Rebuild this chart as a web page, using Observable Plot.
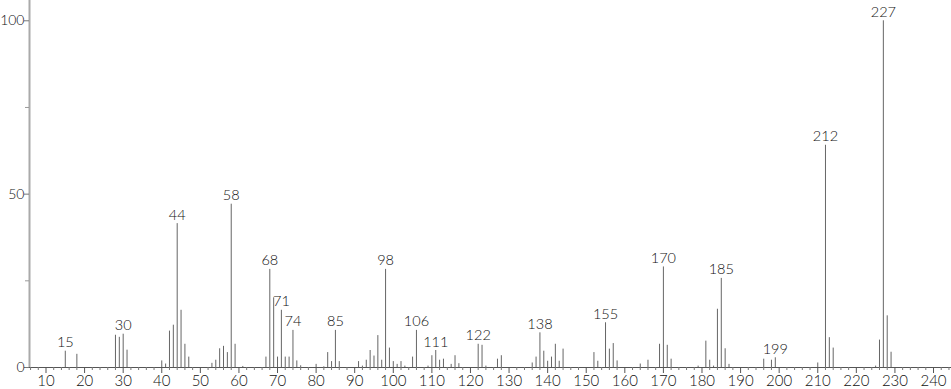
<!DOCTYPE html>
<html>
<head>
<meta charset="utf-8">
<script src="https://cdn.jsdelivr.net/npm/d3@7"></script>
<script src="https://cdn.jsdelivr.net/npm/@observablehq/plot@0.6"></script>
<style>
  html, body { margin: 0; padding: 0; background: #fff; }
  #chart svg { display: block; }
</style>
</head>
<body>
<div id="chart"></div>
<script>
// m/z values and relative intensities
const mz = [15, 18, 28, 29, 30, 31, 40, 41, 42, 43, 44, 45, 46, 47, 53, 54, 55, 56, 57, 58, 59, 61,
  67, 68, 69, 70, 71, 72, 73, 74, 75, 76, 80, 82, 83, 84, 85, 86, 91, 92, 93, 94, 95, 96, 97, 98, 99,
  100, 101, 102, 103, 105, 106, 109, 110, 111, 112, 113, 115, 116, 117, 122, 123, 124, 127, 128,
  136, 137, 138, 139, 140, 141, 142, 143, 144, 152, 153, 155, 156, 157, 158, 164, 166, 169, 170,
  171, 172, 179, 181, 182, 183, 184, 185, 186, 187, 196, 198, 199, 210, 212, 213, 214, 225, 226,
  227, 228, 229];
const intensity = [4.7, 3.8, 9.3, 8.7, 9.6, 5.0, 1.9, 1.0, 10.5, 12.2, 41.5, 16.5, 6.7, 3.0, 1.2, 2.1, 5.4, 6.1, 4.3, 47.1, 6.7, 0.3,
  3.0, 28.3, 20.1, 3.0, 16.5, 3.0, 3.0, 10.7, 1.9, 0.5, 0.9, 0.2, 4.3, 1.7, 10.7, 1.7, 1.7, 0.4, 2.1, 4.9, 3.3, 9.2, 2.1, 28.3, 5.6,
  1.7, 0.9, 1.7, 0.4, 3.0, 10.7, 0.4, 3.4, 4.9, 2.1, 2.4, 0.9, 3.4, 1.1, 6.7, 6.4, 0.4, 2.4, 3.4,
  1.3, 3.0, 10.0, 4.7, 1.8, 3.0, 6.7, 1.8, 5.3, 4.3, 1.8, 12.9, 5.3, 6.9, 1.9, 1.0, 2.1, 6.7, 29.0,
  6.4, 2.4, 0.4, 7.6, 2.1, 0.4, 16.8, 25.7, 5.4, 0.9, 2.4, 2.1, 2.8, 1.3, 64.1, 8.6, 5.6, 0.4, 7.9,
  100, 14.9, 4.4];
const labelled = [15, 30, 44, 58, 68, 71, 74, 85, 98, 106, 111, 122, 138, 155, 170, 185, 199, 212, 227];
const xMajorTicks = d3.range(10, 241, 10);
const xMinorTicks = d3.range(6, 245, 2).filter(v => v % 10 !== 0);
const yMajorTicks = [0, 50, 100];
const yMinorTicks = [25, 75];

const peaks = mz.map((m, i) => ({mz: m, intensity: intensity[i]}));
const labelPeaks = peaks.filter(d => labelled.includes(d.mz));

const xDomain = [5.724, 244.66];
const font = "Lato, 'DejaVu Sans', sans-serif";

const chart = Plot.plot({
  width: 951,
  height: 389,
  marginLeft: 29,
  marginRight: 0,
  marginTop: 0,
  marginBottom: 22,
  style: {fontFamily: font, fontSize: "14px", fontWeight: 300, color: "#222", background: "#fff"},
  x: {domain: xDomain, axis: null},
  y: {domain: [0, 105.85], axis: null},
  marks: [
    Plot.ruleX(peaks, {x: "mz", y1: 0, y2: "intensity", stroke: "#666", strokeWidth: 1}),
    Plot.text(labelPeaks, {x: "mz", y: "intensity", text: d => String(d.mz), lineAnchor: "bottom", dy: -4,
      fontSize: 14.5, fontWeight: 300, fill: "#111", fontFamily: font}),
    // x axis
    Plot.ruleY([0], {stroke: "#555", strokeWidth: 1}),
    Plot.axisX(xMajorTicks, {tickSize: 6, tickPadding: 2, fontSize: 15, fontWeight: 300, stroke: "#555", fill: "#111", label: null, tickFormat: d => String(d)}),
    Plot.axisX(xMinorTicks, {tickSize: 3, tickFormat: null, stroke: "#777", label: null, text: null}),
    // y axis
    Plot.ruleX([xDomain[0]], {stroke: "#aaa", strokeWidth: 2}),
    Plot.axisY(yMajorTicks, {x: xDomain[0], tickSize: 5, tickPadding: 0, fontSize: 14, fontWeight: 300, stroke: "#777", fill: "#111", label: null, tickFormat: d => String(d)}),
    Plot.axisY(yMinorTicks, {x: xDomain[0], tickSize: 4, stroke: "#999", label: null, text: null})
  ]
});
document.getElementById("chart").appendChild(chart);
</script>
</body>
</html>
